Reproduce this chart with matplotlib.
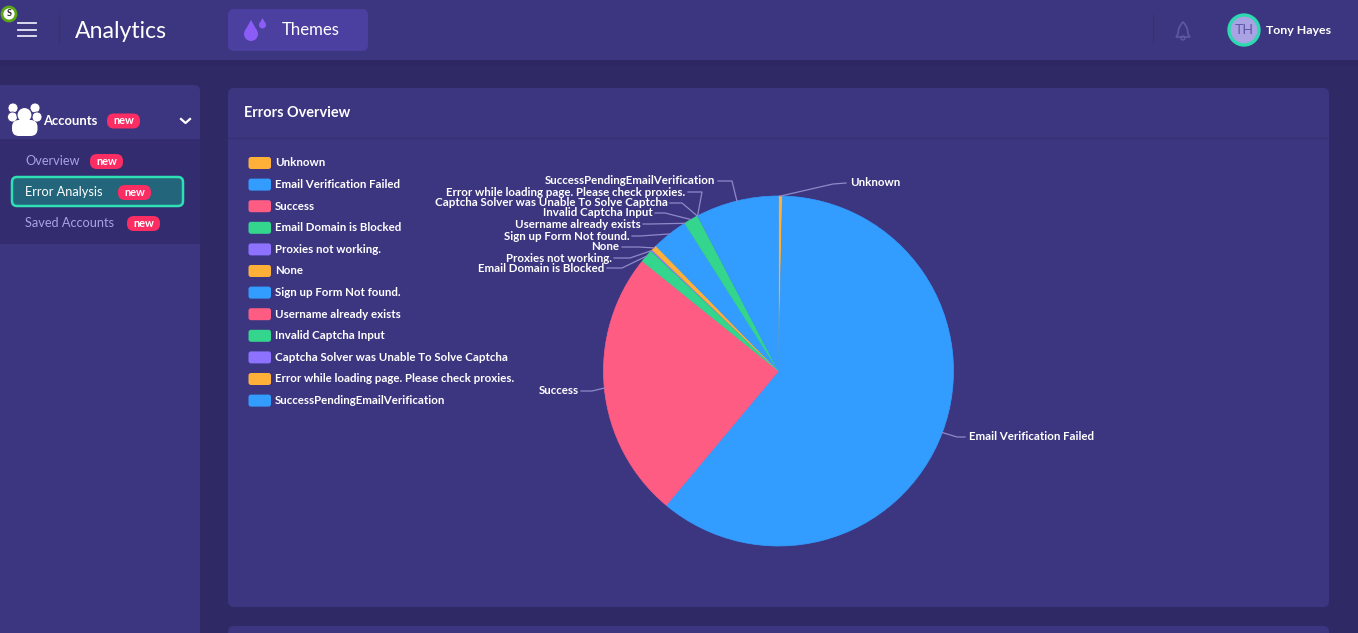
import matplotlib
matplotlib.use("Agg")
import numpy as np
import matplotlib.pyplot as plt
from matplotlib.patches import FancyBboxPatch, Rectangle, Circle, Polygon, PathPatch
from matplotlib.path import Path

categories = ["Unknown", "Email Verification Failed", "Success", "Email Domain is Blocked",
              "Proxies not working.", "None", "Sign up Form Not found.", "Username already exists",
              "Invalid Captcha Input", "Captcha Solver was Unable To Solve Captcha",
              "Error while loading page. Please check proxies.", "SuccessPendingEmailVerification"]
values = [1.3, 218.6, 89.0, 4.2, 0.7, 1.8, 11.9, 0.1, 4.7, 0.1, 0.1, 27.5]
palette = ["#FFB038", "#339CFF", "#FF5C84", "#33D68C", "#8D72FF"]
menu_items = ["Overview", "Error Analysis", "Saved Accounts"]

W, H = 1358, 633
FONT = "Lato"
plt.rcParams["font.family"] = [FONT, "DejaVu Sans"]
fig = plt.figure(figsize=(W / 100, H / 100), dpi=100, facecolor="#2F2A66")
bg = fig.add_axes([0, 0, 1, 1], zorder=0)
bg.set_xlim(0, W); bg.set_ylim(H, 0); bg.axis("off")

PANEL = "#3C3680"


def box(x, y, w, h, color, r=5, ec="none", lw=0, z=1):
    p = FancyBboxPatch((x + r, y + r), w - 2 * r, h - 2 * r, boxstyle=f"round,pad={r},rounding_size={r}",
                       fc=color, ec=ec, lw=lw, zorder=z)
    bg.add_patch(p)


def txt(x, y, s, size, color="white", ha="left", weight="normal", z=6):
    bg.text(x, y, s, fontsize=size * 0.72, color=color, ha=ha, va="center", fontweight=weight, zorder=z)


def badge(x, y, w=33):
    box(x, y - 7.5, w, 15, "#FB2D63", r=7, z=5)
    txt(x + w / 2, y, "new", 11, ha="center", weight="bold")


# top bar
bg.add_patch(Rectangle((0, 0), W, 60, fc=PANEL, ec="none", zorder=1))
bg.add_patch(Rectangle((0, 60), W, 5, fc="#2D2863", ec="none", zorder=1))
for yy in (23, 29.5, 36):
    bg.plot([18, 36], [yy, yy], color="#E8E6F5", lw=1.3, zorder=3)
bg.plot([58.5, 58.5], [15, 43], color="#37316F", lw=1, zorder=3)
txt(75, 31, "Analytics", 23)
box(228, 9, 140, 42, "#4B3FA0", r=6)
for cx0, cy0, r in [(251, 34, 7), (262.5, 25, 3.5)]:
    bg.add_patch(Circle((cx0, cy0), r, fc="#8B5CF6", ec="none", zorder=3))
    bg.add_patch(Polygon([(cx0 - r * 0.9, cy0 - r * 0.4), (cx0 + r * 0.9, cy0 - r * 0.4), (cx0, cy0 - r * 2)],
                         fc="#8B5CF6", ec="none", zorder=3))
txt(282, 30, "Themes", 16.7)
bg.plot([1152.5, 1152.5], [15, 43], color="#37316F", lw=1, zorder=3)
bell = Path([(1176, 37), (1178, 34), (1178, 27), (1183, 22), (1188, 27), (1188, 34), (1190, 37), (1176, 37)],
            [Path.MOVETO, Path.LINETO, Path.CURVE3, Path.CURVE3, Path.CURVE3, Path.CURVE3, Path.LINETO, Path.CLOSEPOLY])
bg.add_patch(PathPatch(bell, fc="none", ec="#5F58A0", lw=1.2, zorder=3))
bg.add_patch(Circle((1183, 38), 2, fc="none", ec="#5F58A0", lw=1, zorder=3))
bg.add_patch(Circle((1244, 30), 15, fc="#A9A3E3", ec="#2ED8B0", lw=2.4, zorder=3))
txt(1244, 30, "TH", 14, color="#5F56A8", ha="center")
txt(1266, 30, "Tony Hayes", 12.4, weight="bold")

# green S marker
bg.add_patch(Circle((9, 14), 7, fc="white", ec="#5BA518", lw=2, zorder=8))
txt(9, 14, "S", 9, color="#222222", ha="center", weight="bold", z=9)

# sidebar
box(-10, 85, 210, 600, PANEL, r=6)
bg.add_patch(Rectangle((0, 139), 200, 105, fc="#332D70", ec="none", zorder=2))
for cx0, cy0, r in [(13, 108, 5), (35, 108, 5), (12.5, 117, 5), (37, 117, 5)]:
    bg.add_patch(Circle((cx0, cy0), r, fc="white", ec=PANEL, lw=0.6, zorder=3))
bg.add_patch(Circle((24.5, 115), 7.5, fc="white", ec=PANEL, lw=0.8, zorder=4))
box(12, 120, 25.5, 16, "white", r=7, z=4)
txt(43, 121, "Accounts", 13, weight="bold")
badge(107, 121)
bg.plot([181, 185.5, 190], [119, 123, 119], color="white", lw=1.6, zorder=3)
box(12, 177, 171, 29, "#23657A", r=5, ec="#2EE0B4", lw=1.8, z=3)
menu_y = [161, 192, 223]
menu_col = ["#A8A3E0", "white", "#A8A3E0"]
badge_x = [90, 118, 127]
for name, yy, col, bx in zip(menu_items, menu_y, menu_col, badge_x):
    txt(25, yy, name, 12.7, color=col)
    badge(bx, yy + 0.5)

# cards
box(228, 88, 1101, 519, PANEL, r=6)
bg.plot([228, 1329], [137.5, 137.5], color="#363073", lw=0.8, zorder=2)
txt(244, 113, "Errors Overview", 14.5, weight="bold")
box(228, 626, 1101, 40, PANEL, r=6)

# legend
for i, name in enumerate(categories):
    yy = 163 + i * 21.6
    box(248.5, yy - 6, 22.5, 12, palette[i % 5], r=2.5, z=3)
    txt(275, yy, name, 11.5, weight="bold")

# pie
cx, cy, R = 778.5, 371, 175
pad = 1.02
pie_ax = fig.add_axes([(cx - R * pad) / W, 1 - (cy + R * pad) / H, 2 * R * pad / W, 2 * R * pad / H], zorder=1)
pie_ax.patch.set_alpha(0)
wedges, _ = pie_ax.pie(values, colors=[palette[i % 5] for i in range(len(values))], startangle=90,
                       counterclock=False, radius=1, wedgeprops={"linewidth": 0})
for w, v in zip(wedges, values):
    if v >= 1:
        w.set_edgecolor(w.get_facecolor())
        w.set_linewidth(0.5)
        w.set_zorder(3)
pie_ax.set_xlim(-pad, pad); pie_ax.set_ylim(-pad, pad)

# leader lines: elbow point and label anchor, in pixels
elbows = [(833, 184), (957, 437), (592, 391), (622, 268), (630, 258), (638, 247), (640, 236),
          (650, 224), (665, 213), (682, 203), (702, 192), (732, 181)]
ends = [(846, 183), (965, 437), (581, 391), (607, 268), (614, 258), (622, 247), (632, 236),
        (643, 224), (655, 213), (670, 203), (688, 192), (718, 181)]
vals = np.array(values)
mids = np.cumsum(vals) - vals / 2
mids = mids / vals.sum() * 2 * np.pi
overlay = fig.add_axes([0, 0, 1, 1], zorder=2)
overlay.set_xlim(0, W); overlay.set_ylim(H, 0); overlay.axis("off"); overlay.patch.set_alpha(0)
for name, a, e, n in zip(categories, mids, elbows, ends):
    sx, sy = cx + R * np.sin(a), cy - R * np.cos(a)
    overlay.plot([sx, e[0], n[0]], [sy, e[1], n[1]], color="#8F89C9", lw=0.9, solid_joinstyle="round")
    right = n[0] > cx
    overlay.text(n[0] + (4 if right else -2.5), n[1], name, fontsize=11.5 * 0.72, color="white",
                 ha="left" if right else "right", va="center", fontweight="bold")

fig.savefig("out.png", dpi=100, facecolor=fig.get_facecolor())
